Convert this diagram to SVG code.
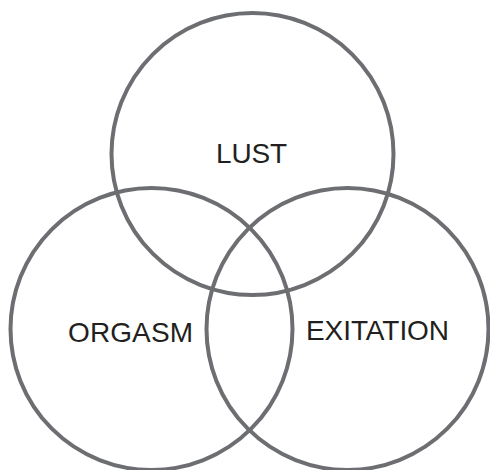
<svg xmlns="http://www.w3.org/2000/svg" width="490" height="470" viewBox="0 0 490 470">
<style>
.c{fill:none;stroke:#6d6e71;stroke-width:4}
.t{font-family:"Liberation Sans",Arial,sans-serif;font-size:28px;fill:#231f20}
</style>
<rect width="490" height="470" fill="#fff"/>
<g id="lust"><circle class="c" cx="252.5" cy="154" r="141"/><text class="t" x="216" y="163" textLength="71">LUST</text></g>
<g id="orgasm"><circle class="c" cx="151.5" cy="329" r="141"/><text class="t" x="68" y="342" textLength="125">ORGASM</text></g>
<g id="exitation"><circle class="c" cx="347.5" cy="329" r="141"/><text class="t" x="306" y="340" textLength="143">EXITATION</text></g>
<g id="connectors"/>
</svg>
